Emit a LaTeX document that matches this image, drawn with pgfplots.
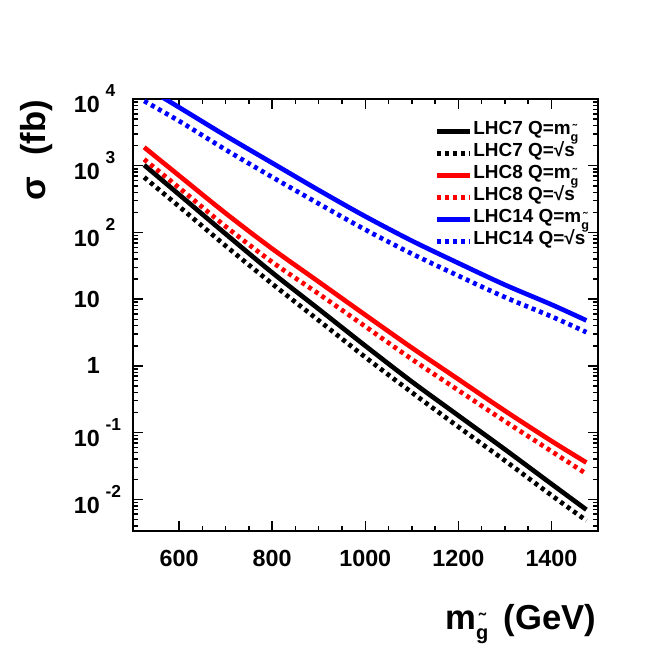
\documentclass[border=0pt]{standalone}
\usepackage{fontspec}
\setmainfont{Liberation Sans}
\usepackage{pgfplots}
\usepackage{pgfplotstable}
\pgfplotsset{compat=1.18}

% 10^n tick label, exponent hangs to the right
\newcommand\ee[1]{10\rlap{\hspace{0.25em}\raisebox{0.68em}{\fontsize{13pt}{13pt}\selectfont #1}}}
% gluino subscript: g with a tilde above
\newcommand\gt[1]{{\fontsize{#1}{#1}\selectfont\raisebox{-0.52em}{\rlap{g}}\makebox[0.611em][c]{\raisebox{0.1em}{\char"02DC}}}}

% m  LHC7(m)  LHC7(sqrt s)  LHC8(m)  LHC8(sqrt s)  LHC14(m)  LHC14(sqrt s)
\pgfplotstableread{
m    a      b      c      d      e      f
525  1025   671    1890   1248   15500  9330
600  370    245    711    468    7500   4680
700  95     63     194    123    2820   1740
800  25     17     57     36     1100   676
900  7.1    4.8    18.2   12     430    270
1000 2.0    1.35   5.8    3.9    174    110
1100 0.58   0.40   1.87   1.26   75     48
1200 0.18   0.122  0.63   0.43   34.7   22.4
1300 0.056  0.038  0.212  0.148  16.4   10.7
1400 0.017  0.0115 0.0748 0.0525 8.3    5.5
1475 0.0070 0.0048 0.0356 0.0241 4.8    3.2
}\xs

\begin{document}
\begin{tikzpicture}
\begin{axis}[
  width=349.1pt, height=324pt, scale only axis,
  xmin=500, xmax=1500,
  ymode=log, ymin=0.00335, ymax=10000,
  xtick={600,800,...,1400}, minor x tick num=3,
  ytick={0.01,0.1,1,10,100,1000,10000},
  yticklabels={\ee{-2},\ee{-1},1,10,\ee{2},\ee{3},\ee{4}},
  minor ytick={0.004,0.005,0.006,0.007,0.008,0.009,
    0.02,0.03,0.04,0.05,0.06,0.07,0.08,0.09,
    0.2,0.3,0.4,0.5,0.6,0.7,0.8,0.9,
    2,3,4,5,6,7,8,9,20,30,40,50,60,70,80,90,
    200,300,400,500,600,700,800,900,
    2000,3000,4000,5000,6000,7000,8000,9000},
  tick label style={font=\fontsize{17.5pt}{20pt}\selectfont\bfseries},
  /pgf/number format/assume math mode=true,
  /pgf/number format/1000 sep={},
  xticklabel shift=10.7pt, yticklabel shift=21pt,
  major tick length=7.5pt, minor tick length=3.75pt,
  tick style={black, line width=1.1pt},
  axis line style={line width=1.5pt},
  xlabel={m\gt{15pt}\hspace{0.45em}(GeV)},
  ylabel={σ\hspace{0.6em}(fb)},
  every axis x label/.style={at={(rel axis cs:0.997,-0.227)}, anchor=base east,
    inner sep=0pt, font=\fontsize{26pt}{30pt}\selectfont\bfseries},
  every axis y label/.style={at={(rel axis cs:-0.188,0.998)}, anchor=base east,
    rotate=90, inner sep=0pt, font=\fontsize{26pt}{30pt}\selectfont\bfseries},
  legend style={at={(rel axis cs:0.648,0.951)}, anchor=north west,
    draw=none, fill=none, inner sep=0pt, row sep=0pt,
    font=\fontsize{14.2pt}{16pt}\selectfont\bfseries,
    nodes={inner xsep=1pt, inner ysep=0pt, text height=10.5pt, text depth=6pt},
    cells={anchor=west}},
  legend image code/.code={\draw[#1] (0pt,0pt) -- (24.75pt,0pt);},
]
\addplot[black, line width=3.5pt, smooth] table[x=m,y=a]{\xs};
\addplot[black, line width=3.5pt, smooth, dash pattern=on 3pt off 3pt] table[x=m,y=b]{\xs};
\addplot[red, line width=3.5pt, smooth] table[x=m,y=c]{\xs};
\addplot[red, line width=3.5pt, smooth, dash pattern=on 3pt off 3pt] table[x=m,y=d]{\xs};
\addplot[blue, line width=3.5pt, smooth] table[x=m,y=e]{\xs};
\addplot[blue, line width=3.5pt, smooth, dash pattern=on 3pt off 3pt] table[x=m,y=f]{\xs};
\legend{LHC7 Q=m\gt{9.5pt}, LHC7 Q=√s, LHC8 Q=m\gt{9.5pt}, LHC8 Q=√s,
  LHC14 Q=m\gt{9.5pt}, LHC14 Q=√s}
\end{axis}
\pgfresetboundingbox
\path (current axis.south west) ++(-99.4pt,-99.75pt) rectangle ++(498pt,498pt);
\end{tikzpicture}
\end{document}
